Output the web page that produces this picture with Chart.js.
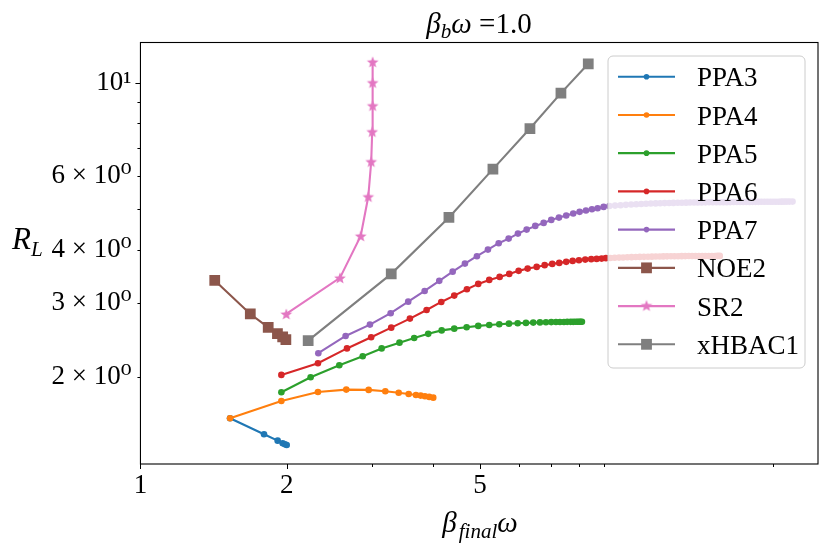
<!DOCTYPE html>
<html><head><meta charset="utf-8">
<script src="https://cdn.jsdelivr.net/npm/chart.js@4.4.0/dist/chart.umd.min.js"></script>
<style>html,body{margin:0;padding:0;background:#fff;}canvas{display:block;}</style>
</head><body>
<canvas id="c" width="830" height="546"></canvas>
<script>
// ---- data ----
const xTicks = [1, 2, 3, 4, 5, 6, 7, 8, 9, 20];
const xMajor = [1, 2, 5];
const xTickLabels = {1: '1', 2: '2', 5: '5'};
const yTicks = [2, 3, 4, 5, 6, 7, 8, 9, 10];
const yMajor = [10];
const yTickLabels = {2: '2 × 10⁰', 3: '3 × 10⁰', 4: '4 × 10⁰', 6: '6 × 10⁰', 10: '10¹'};

const seriesNames = ['PPA3', 'PPA4', 'PPA5', 'PPA6', 'PPA7', 'NOE2', 'SR2', 'xHBAC1'];

const ppa3X = [1.529, 1.796, 1.916, 1.962, 1.983, 2.000];
const ppa3Y = [1.593, 1.459, 1.409, 1.389, 1.381, 1.376];

const ppa4X = [1.529, 1.950, 2.319, 2.652, 2.949, 3.191, 3.400, 3.565, 3.690, 3.773, 3.850, 3.929, 4.005];
const ppa4Y = [1.593, 1.751, 1.839, 1.863, 1.860, 1.846, 1.832, 1.819, 1.809, 1.803, 1.797, 1.790, 1.783];

const ppa5X = [1.950, 2.240, 2.566, 2.867, 3.136, 3.413, 3.659, 3.911, 4.168, 4.424, 4.692, 4.957, 5.222, 5.476, 5.733, 5.975,
  6.215, 6.433, 6.641, 6.832, 7.006, 7.164, 7.300, 7.440, 7.557, 7.680, 7.775, 7.864, 7.939, 7.999, 8.053, 8.103];
const ppa5Y = [1.836, 1.994, 2.129, 2.236, 2.334, 2.409, 2.472, 2.528, 2.576, 2.601, 2.621, 2.640, 2.654, 2.665, 2.673, 2.679,
  2.684, 2.688, 2.691, 2.694, 2.696, 2.697, 2.698, 2.698, 2.699, 2.699, 2.699, 2.700, 2.700, 2.700, 2.700, 2.700];

const ppa6X = [1.950, 2.319, 2.661, 2.984, 3.282, 3.586, 3.881, 4.160, 4.424, 4.698, 4.957, 5.222, 5.486, 5.741, 6.003, 6.265,
  6.538, 6.790, 7.039, 7.276, 7.521, 7.753, 7.988, 8.230, 8.467, 8.687, 8.895, 9.078,
  9.27, 9.46, 9.66, 9.85, 10.05, 10.25, 10.46, 10.66, 10.87, 11.08, 11.29, 11.50, 11.71, 11.92, 12.13, 12.35, 12.56, 12.78,
  13.00, 13.22, 13.44, 13.66, 13.88, 14.10, 14.33, 14.55, 14.78, 15.00, 15.23, 15.40, 15.57];
const ppa6Y = [2.019, 2.152, 2.334, 2.481, 2.615, 2.748, 2.881, 3.010, 3.116, 3.227, 3.322, 3.396, 3.452, 3.509, 3.568, 3.613,
  3.646, 3.681, 3.707, 3.727, 3.748, 3.768, 3.783, 3.795, 3.804, 3.810, 3.816, 3.825,
  3.829, 3.833, 3.837, 3.840, 3.843, 3.846, 3.849, 3.851, 3.853, 3.855, 3.857, 3.859, 3.860, 3.862, 3.863, 3.864, 3.865, 3.866,
  3.867, 3.868, 3.869, 3.869, 3.870, 3.870, 3.871, 3.871, 3.872, 3.872, 3.872, 3.873, 3.873];

const ppa7X = [2.323, 2.644, 2.967, 3.273, 3.557, 3.845, 4.121, 4.391, 4.654, 4.926, 5.190, 5.461, 5.725, 5.983, 6.235, 6.495,
  6.758, 7.006, 7.266, 7.521, 7.775, 8.014, 8.258, 8.495, 8.727, 8.979,
  9.23, 9.48, 9.73, 9.98, 10.23, 10.48, 10.73, 10.98, 11.23, 11.49, 11.74, 11.99, 12.25, 12.50, 12.76, 13.01, 13.27, 13.52,
  13.78, 14.03, 14.29, 14.55, 14.80, 15.06, 15.32, 15.58, 15.84, 16.10, 16.36, 16.62, 16.88, 17.14, 17.40, 17.66, 17.93,
  18.19, 18.45, 18.72, 18.98, 19.25, 19.51, 19.78, 20.04, 20.31, 20.58, 20.85, 21.12, 21.39, 21.66, 21.98];
const ppa7Y = [2.274, 2.499, 2.659, 2.830, 3.015, 3.197, 3.378, 3.553, 3.713, 3.866, 4.008, 4.151, 4.257, 4.375, 4.472, 4.563,
  4.639, 4.716, 4.776, 4.829, 4.882, 4.928, 4.963, 5.000, 5.028, 5.064,
  5.088, 5.100, 5.111, 5.121, 5.130, 5.138, 5.145, 5.151, 5.157, 5.162, 5.166, 5.170, 5.173, 5.176, 5.179, 5.181, 5.183, 5.185,
  5.187, 5.189, 5.190, 5.191, 5.192, 5.193, 5.194, 5.195, 5.196, 5.197, 5.198, 5.199, 5.200, 5.201, 5.202, 5.203, 5.204,
  5.205, 5.206, 5.206, 5.207, 5.208, 5.208, 5.209, 5.209, 5.210, 5.210, 5.211, 5.211, 5.212, 5.212, 5.213];

const noe2X = [1.422, 1.683, 1.832, 1.914, 1.962, 1.992];
const noe2Y = [3.386, 2.818, 2.618, 2.532, 2.485, 2.450];

const sr2X = [1.996, 2.574, 2.840, 2.944, 2.985, 2.999, 3.005, 3.005, 3.005];
const sr2Y = [2.818, 3.434, 4.321, 5.358, 6.490, 7.646, 8.816, 10.0, 11.20];

const xhbac1X = [2.214, 3.282, 4.314, 5.314, 6.333, 7.335, 8.349];
const xhbac1Y = [2.436, 3.510, 4.780, 6.225, 7.775, 9.437, 11.08];

// ---- styles ----
const FONT = "'Liberation Serif', 'DejaVu Serif', serif";
const colors = ['#1f77b4', '#ff7f0e', '#2ca02c', '#d62728', '#9467bd', '#8c564b', '#e377c2', '#7f7f7f'];
const markers = ['circle', 'circle', 'circle', 'circle', 'circle', 'rect', 'star', 'rect'];
const xsAll = [ppa3X, ppa4X, ppa5X, ppa6X, ppa7X, noe2X, sr2X, xhbac1X];
const ysAll = [ppa3Y, ppa4Y, ppa5Y, ppa6Y, ppa7Y, noe2Y, sr2Y, xhbac1Y];

function makeStar(color) {
  const c = document.createElement('canvas');
  c.width = 14; c.height = 14;
  const g = c.getContext('2d');
  g.fillStyle = color;
  g.beginPath();
  const cx = 7, cy = 7.6, R = 6.2, r = 2.6;
  for (let i = 0; i < 10; i++) {
    const a = -Math.PI / 2 + i * Math.PI / 5;
    const rr = (i % 2) ? r : R;
    g.lineTo(cx + rr * Math.cos(a), cy + rr * Math.sin(a));
  }
  g.closePath();
  g.fill();
  return c;
}
const starImg = makeStar('#e377c2');

function pstyle(i) { return markers[i] === 'star' ? starImg : markers[i]; }
function prad(i) { return markers[i] === 'rect' ? 7.6 : (markers[i] === 'star' ? 6 : 3.3); }

const datasets = seriesNames.map((name, i) => ({
  label: name,
  data: xsAll[i].map((x, k) => ({x: x, y: ysAll[i][k]})),
  borderColor: colors[i],
  backgroundColor: colors[i],
  borderWidth: 2.1,
  showLine: true,
  tension: 0,
  pointStyle: pstyle(i),
  pointRadius: prad(i),
  pointHoverRadius: prad(i),
  pointBorderWidth: 0,
  order: seriesNames.length - i
}));

function drawRich(ctx, parts, x0, baseline, align) {
  let total = 0;
  parts.forEach(p => { ctx.font = (p.it ? 'italic ' : '') + p.s + 'px ' + FONT; p.w = ctx.measureText(p.t).width + (p.gap || 0); total += p.w; });
  let x = align === 'center' ? x0 - total / 2 : x0;
  ctx.textAlign = 'left';
  ctx.textBaseline = 'alphabetic';
  ctx.fillStyle = '#000';
  parts.forEach(p => {
    ctx.font = (p.it ? 'italic ' : '') + p.s + 'px ' + FONT;
    ctx.fillText(p.t, x, baseline + (p.dy || 0));
    x += p.w;
  });
}

const decor = {
  id: 'decor',
  afterDatasetsDraw(chart) {
    const ctx = chart.ctx;
    const a = chart.chartArea;
    const xs = chart.scales.x, ys = chart.scales.y;
    ctx.save();
    ctx.strokeStyle = '#000';
    ctx.lineWidth = 1.1;
    ctx.strokeRect(a.left, a.top, a.right - a.left, a.bottom - a.top);
    ctx.lineWidth = 1;
    ctx.beginPath();
    xTicks.forEach(v => {
      const p = Math.round(xs.getPixelForValue(v)) + 0.5;
      const len = xMajor.includes(v) ? 5 : 3;
      ctx.moveTo(p, a.bottom); ctx.lineTo(p, a.bottom + len);
    });
    yTicks.forEach(v => {
      const p = Math.round(ys.getPixelForValue(v)) + 0.5;
      const len = yMajor.includes(v) ? 5 : 3;
      ctx.moveTo(a.left, p); ctx.lineTo(a.left - len, p);
    });
    ctx.stroke();

    // legend
    const bx = 608, by = 56, bw = 197, bh = 312, rad = 5;
    ctx.beginPath();
    ctx.moveTo(bx + rad, by);
    ctx.arcTo(bx + bw, by, bx + bw, by + bh, rad);
    ctx.arcTo(bx + bw, by + bh, bx, by + bh, rad);
    ctx.arcTo(bx, by + bh, bx, by, rad);
    ctx.arcTo(bx, by, bx + bw, by, rad);
    ctx.closePath();
    ctx.fillStyle = 'rgba(255,255,255,0.8)';
    ctx.fill();
    ctx.strokeStyle = '#cccccc';
    ctx.lineWidth = 1;
    ctx.stroke();
    seriesNames.forEach((name, i) => {
      const ry = 76.7 + i * 38.23;
      ctx.strokeStyle = colors[i];
      ctx.lineWidth = 2.1;
      ctx.beginPath();
      ctx.moveTo(618, ry); ctx.lineTo(675, ry);
      ctx.stroke();
      ctx.fillStyle = colors[i];
      if (markers[i] === 'circle') {
        ctx.beginPath(); ctx.arc(646.5, ry, 2.8, 0, Math.PI * 2); ctx.fill();
      } else if (markers[i] === 'rect') {
        const s = 5.4; ctx.fillRect(646.5 - s, ry - s, 2 * s, 2 * s);
      } else {
        ctx.drawImage(starImg, 646.5 - 7, ry - 7.6);
      }
      ctx.fillStyle = '#000';
      ctx.font = '27px ' + FONT;
      ctx.textAlign = 'left';
      ctx.textBaseline = 'alphabetic';
      ctx.fillText(name, 697, ry + 9.6);
    });
    ctx.restore();
  },
  afterDraw(chart) {
    const ctx = chart.ctx;
    ctx.save();
    drawRich(ctx, [{t: 'β', it: 1, s: 29}, {t: 'b', it: 1, s: 21, dy: 5}, {t: 'ω', it: 1, s: 29}, {t: ' =1.0', it: 0, s: 29}], 479, 33, 'center');
    drawRich(ctx, [{t: 'β', it: 1, s: 29, gap: 2}, {t: 'final', it: 1, s: 21, dy: 6}, {t: 'ω', it: 1, s: 29}], 480, 532, 'center');
    drawRich(ctx, [{t: 'R', it: 1, s: 31}, {t: 'L', it: 1, s: 21, dy: 7}], 12, 249, 'left');
    ctx.restore();
  }
};

Chart.defaults.font.family = FONT;
Chart.defaults.font.size = 27;
Chart.defaults.color = '#000';

new Chart(document.getElementById('c'), {
  type: 'scatter',
  data: {datasets: datasets},
  options: {
    responsive: false,
    animation: false,
    events: [],
    layout: {padding: {top: 42.5, right: 12, left: 0, bottom: 0}},
    plugins: {legend: {display: false}, tooltip: {enabled: false}, title: {display: false}},
    scales: {
      x: {
        type: 'logarithmic', min: 1, max: 24.8,
        grid: {display: false, drawTicks: false},
        border: {display: false},
        afterBuildTicks: s => { s.ticks = xTicks.map(v => ({value: v, major: xMajor.includes(v)})); },
        afterFit: s => { s.height = 82; },
        ticks: {autoSkip: false, maxRotation: 0, padding: 6, font: {size: 27}, callback: v => xTickLabels[v] || ''}
      },
      y: {
        type: 'logarithmic', min: 1.24, max: 12.45,
        grid: {display: false, drawTicks: false},
        border: {display: false},
        afterBuildTicks: s => { s.ticks = yTicks.map(v => ({value: v, major: yMajor.includes(v)})); },
        afterFit: s => { s.width = 140.45; },
        ticks: {autoSkip: false, padding: 9, font: {size: 27}, callback: v => yTickLabels[v] || ''}
      }
    }
  },
  plugins: [decor]
});
</script>
</body></html>
